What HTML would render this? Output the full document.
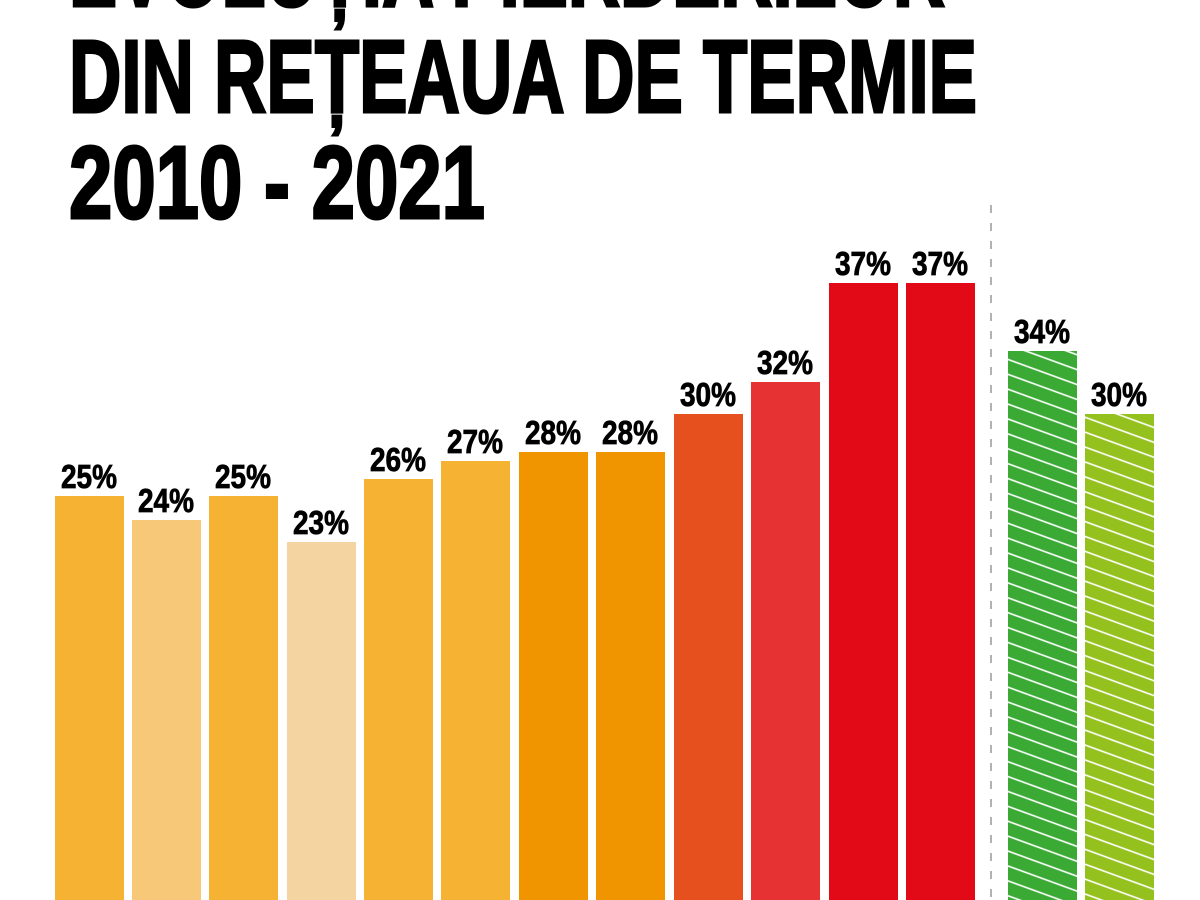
<!DOCTYPE html>
<html><head><meta charset="utf-8"><style>
html,body{margin:0;padding:0;background:#fff;width:1200px;height:900px;overflow:hidden}
text{font-family:"Liberation Sans",sans-serif;font-weight:bold;fill:#000}
.t{stroke:#000;stroke-width:3}
.l{stroke:#000;stroke-width:0.8}
</style></head><body>
<svg width="1200" height="900" viewBox="0 0 1200 900" xmlns="http://www.w3.org/2000/svg">
<defs>
<pattern id="h" patternUnits="userSpaceOnUse" width="14" height="14" patternTransform="rotate(20)">
<rect width="14" height="14" fill="none"/><line x1="0" y1="7" x2="14" y2="7" stroke="#fff" stroke-width="1.6"/>
</pattern>
</defs>
<text class="t" x="69" y="6" font-size="103" textLength="876" lengthAdjust="spacingAndGlyphs">EVOLUȚIA PIERDERILOR</text>
<text class="t" x="69" y="112" font-size="103" textLength="908" lengthAdjust="spacingAndGlyphs">DIN REȚEAUA DE TERMIE</text>
<text class="t" x="69" y="218" font-size="103" textLength="416" lengthAdjust="spacingAndGlyphs">2010 - 2021</text>
<line x1="991" y1="205" x2="991" y2="900" stroke="#999" stroke-width="1.5" stroke-dasharray="8,10"/>
<g>
<rect x="55" y="496" width="69" height="404" fill="#f5b233"/>
<rect x="132" y="520" width="69" height="380" fill="#f7c878"/>
<rect x="209" y="496" width="69" height="404" fill="#f5b233"/>
<rect x="287" y="542" width="69" height="358" fill="#f4d4a0"/>
<rect x="364" y="479" width="69" height="421" fill="#f5b233"/>
<rect x="441" y="461" width="69" height="439" fill="#f5b233"/>
<rect x="519" y="452" width="69" height="448" fill="#f09400"/>
<rect x="596" y="452" width="69" height="448" fill="#f09400"/>
<rect x="674" y="414" width="69" height="486" fill="#e6501e"/>
<rect x="751" y="382" width="69" height="518" fill="#e63232"/>
<rect x="829" y="283" width="69" height="617" fill="#e30a17"/>
<rect x="906" y="283" width="69" height="617" fill="#e30a17"/>
<rect x="1008" y="351" width="69" height="549" fill="#3aaa35"/>
<rect x="1008" y="351" width="69" height="549" fill="url(#h)"/>
<rect x="1085" y="414" width="69" height="486" fill="#95c11f"/>
<rect x="1085" y="414" width="69" height="486" fill="url(#h)"/>
</g>
<g font-size="33" text-anchor="middle" class="l">
<text x="89" y="488" textLength="56" lengthAdjust="spacingAndGlyphs">25%</text>
<text x="166" y="512" textLength="56" lengthAdjust="spacingAndGlyphs">24%</text>
<text x="243" y="488" textLength="56" lengthAdjust="spacingAndGlyphs">25%</text>
<text x="321" y="534" textLength="56" lengthAdjust="spacingAndGlyphs">23%</text>
<text x="398" y="471" textLength="56" lengthAdjust="spacingAndGlyphs">26%</text>
<text x="475" y="453" textLength="56" lengthAdjust="spacingAndGlyphs">27%</text>
<text x="553" y="444" textLength="56" lengthAdjust="spacingAndGlyphs">28%</text>
<text x="630" y="444" textLength="56" lengthAdjust="spacingAndGlyphs">28%</text>
<text x="708" y="406" textLength="56" lengthAdjust="spacingAndGlyphs">30%</text>
<text x="785" y="374" textLength="56" lengthAdjust="spacingAndGlyphs">32%</text>
<text x="863" y="275" textLength="56" lengthAdjust="spacingAndGlyphs">37%</text>
<text x="940" y="275" textLength="56" lengthAdjust="spacingAndGlyphs">37%</text>
<text x="1042" y="343" textLength="56" lengthAdjust="spacingAndGlyphs">34%</text>
<text x="1119" y="406" textLength="56" lengthAdjust="spacingAndGlyphs">30%</text>
</g>
</svg>
</body></html>
